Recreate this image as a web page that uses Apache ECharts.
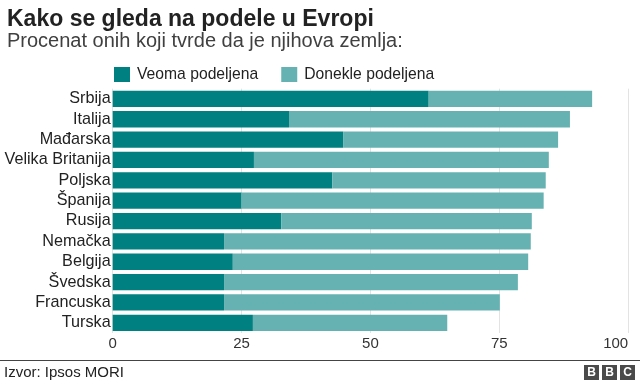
<!DOCTYPE html>
<html>
<head>
<meta charset="utf-8">
<script src="https://cdn.jsdelivr.net/npm/echarts@6/dist/echarts.min.js"></script>
<style>
html,body{margin:0;padding:0;background:#fff;}
#chart{width:640px;height:384px;}
</style>
</head>
<body>
<div id="chart"></div>
<script>
var countries = ["Srbija","Italija","Mađarska","Velika Britanija","Poljska","Španija","Rusija","Nemačka","Belgija","Švedska","Francuska","Turska"];
var veoma = [61.3, 34.2, 44.7, 27.4, 42.6, 25.0, 32.7, 21.6, 23.3, 21.6, 21.6, 27.2];
var donekle = [31.7, 54.5, 41.7, 57.2, 41.4, 58.6, 48.6, 59.5, 57.3, 57.0, 53.5, 37.7];
var xTicks = [0, 25, 50, 75, 100];
var seriesNames = ["Veoma podeljena", "Donekle podeljena"];

var FONT = 'Helvetica, Arial, "Liberation Sans", sans-serif';
var chart = echarts.init(document.getElementById('chart'), null, {renderer: 'canvas'});
chart.setOption({
  animation: false,
  textStyle: {fontFamily: FONT},
  title: [{
    text: 'Kako se gleda na podele u Evropi',
    left: 7, top: 8, padding: 0,
    textStyle: {fontFamily: FONT, fontSize: 23, fontWeight: 'bold', color: '#222222'}
  }, {
    text: 'Procenat onih koji tvrde da je njihova zemlja:',
    left: 7, top: 31, padding: 0,
    textStyle: {fontFamily: FONT, fontSize: 20, fontWeight: 'normal', color: '#404040'}
  }],
  legend: {
    data: seriesNames,
    left: 114, top: 66.5, padding: 0,
    itemWidth: 16, itemHeight: 15, itemGap: 23,
    icon: 'rect',
    textStyle: {fontFamily: FONT, fontSize: 15.7, color: '#222222', padding: [0,0,0,2]}
  },
  grid: {left: 112.7, right: 11.8, top: 88.7, bottom: 51, containLabel: false},
  xAxis: {
    type: 'value', min: xTicks[0], max: xTicks[xTicks.length-1], interval: 25,
    axisLine: {show: false}, axisTick: {show: false},
    splitLine: {show: true, lineStyle: {color: '#e3e3e3', width: 1}},
    axisLabel: {fontFamily: FONT, fontSize: 15, color: '#333333', margin: 3, alignMaxLabel: 'right'}
  },
  yAxis: {
    type: 'category', data: countries, inverse: true,
    axisLine: {show: false}, axisTick: {show: false},
    axisLabel: {interval: 0, fontFamily: FONT, fontSize: 16.2, color: '#222222', margin: 2}
  },
  series: [{
    name: seriesNames[0], type: 'bar', stack: 'a', data: veoma,
    barCategoryGap: '20%',
    itemStyle: {color: '#008080'}
  }, {
    name: seriesNames[1], type: 'bar', stack: 'a', data: donekle,
    barCategoryGap: '20%',
    itemStyle: {color: '#66b2b2'}
  }],
  graphic: [
    {type: 'line', shape: {x1: 0, y1: 360.5, x2: 640, y2: 360.5}, style: {stroke: '#444444', lineWidth: 1}},
    {type: 'text', left: 4, top: 365, style: {text: 'Izvor: Ipsos MORI', font: '15px ' + FONT, fill: '#222222'}},
    {type: 'group', left: 584, top: 365, children: [
      {type: 'rect', shape: {x: 0, y: 0, width: 15, height: 15}, style: {fill: '#4a4a4a'}},
      {type: 'text', x: 7.5, y: 8, style: {text: 'B', font: 'bold 12px ' + FONT, fill: '#fff', align: 'center', verticalAlign: 'middle'}},
      {type: 'rect', shape: {x: 18, y: 0, width: 15, height: 15}, style: {fill: '#4a4a4a'}},
      {type: 'text', x: 25.5, y: 8, style: {text: 'B', font: 'bold 12px ' + FONT, fill: '#fff', align: 'center', verticalAlign: 'middle'}},
      {type: 'rect', shape: {x: 36, y: 0, width: 15, height: 15}, style: {fill: '#4a4a4a'}},
      {type: 'text', x: 43.5, y: 8, style: {text: 'C', font: 'bold 12px ' + FONT, fill: '#fff', align: 'center', verticalAlign: 'middle'}}
    ]}
  ]
});
</script>
</body>
</html>
